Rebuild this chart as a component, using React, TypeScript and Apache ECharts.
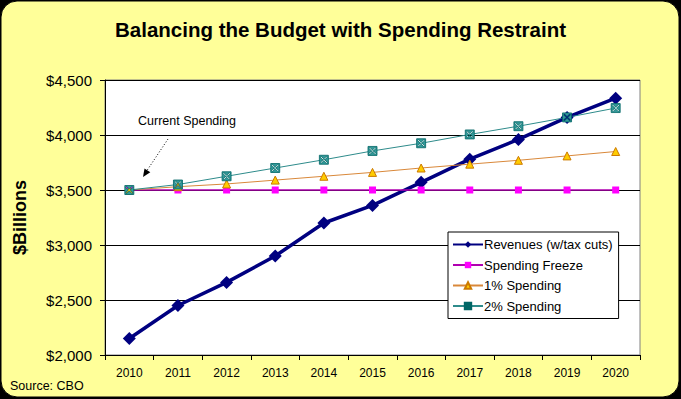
import React, { useEffect, useRef } from "react";
import * as echarts from "echarts";

const years = ["2010", "2011", "2012", "2013", "2014", "2015", "2016", "2017", "2018", "2019", "2020"];
const revenues = [2150, 2450, 2660, 2900, 3200, 3360, 3570, 3780, 3960, 4160, 4335];
const spendingFreeze = [3500, 3500, 3500, 3500, 3500, 3500, 3500, 3500, 3500, 3500, 3500];
const onePctSpending = [3500, 3530, 3555, 3590, 3625, 3660, 3700, 3735, 3770, 3810, 3850];
const twoPctSpending = [3500, 3550, 3625, 3700, 3775, 3855, 3925, 4005, 4080, 4160, 4245];

const FONT = "'Liberation Sans', Arial, sans-serif";
const XBOX = "path://M0,0 L10,0 L10,10 L0,10 Z M2,1 L1,2 L4,5 L1,8 L2,9 L5,6 L8,9 L9,8 L6,5 L9,2 L8,1 L5,4 Z";

export default function App() {
  const ref = useRef<HTMLDivElement>(null);
  useEffect(() => {
    if (!ref.current) return;
    const chart = echarts.init(ref.current, null, { renderer: "svg" });
    chart.setOption({
      animation: false,
      backgroundColor: "transparent",
      textStyle: { fontFamily: FONT },
      title: {
        text: "Balancing the Budget with Spending Restraint",
        left: "center",
        top: 14,
        textStyle: { fontFamily: FONT, fontSize: 20.5, fontWeight: "bold", color: "#000" },
      },
      graphic: [
        {
          type: "rect",
          z: -10,
          shape: { x: 1, y: 1, width: 678, height: 396, r: 16 },
          style: { fill: "#FFFF99", stroke: "#000", lineWidth: 1 },
        },
        {
          type: "text",
          x: 138,
          y: 121,
          style: { text: "Current Spending", font: `12.5px ${FONT}`, fill: "#000", textVerticalAlign: "middle" },
        },
        {
          type: "line",
          shape: { x1: 168, y1: 139, x2: 146, y2: 172 },
          style: { stroke: "#000", lineWidth: 1, lineDash: [1, 2] },
        },
        {
          type: "polygon",
          shape: { points: [[143, 177], [150.3, 172.2], [144.5, 168.4]] },
          style: { fill: "#000" },
        },
        {
          type: "text",
          x: 10,
          y: 386,
          style: { text: "Source: CBO", font: `12.5px ${FONT}`, fill: "#000", textVerticalAlign: "middle" },
        },
      ],
      grid: {
        left: 105,
        right: 41,
        top: 80,
        bottom: 44,
        show: true,
        backgroundColor: "#fff",
        borderColor: "#808080",
        borderWidth: 1,
      },
      legend: {
        orient: "vertical",
        left: 448,
        top: 232,
        width: 166,
        padding: [6, 6, 6, 4],
        itemWidth: 30,
        itemHeight: 8,
        itemGap: 7.5,
        backgroundColor: "#fff",
        borderColor: "#000",
        borderWidth: 1,
        textStyle: { fontFamily: FONT, fontSize: 13, color: "#000", padding: [0, 0, 0, -4] },
        data: ["Revenues (w/tax cuts)", "Spending Freeze", "1% Spending", "2% Spending"],
      },
      xAxis: {
        type: "category",
        data: years,
        boundaryGap: true,
        axisLine: { lineStyle: { color: "#000", width: 1 } },
        axisTick: { show: true, length: 5, lineStyle: { color: "#000" } },
        axisLabel: { color: "#000", fontSize: 12, fontFamily: FONT, margin: 12 },
        splitLine: { show: false },
      },
      yAxis: {
        type: "value",
        min: 2000,
        max: 4500,
        interval: 500,
        name: "$Billions",
        nameLocation: "middle",
        nameRotate: 90,
        nameGap: 76,
        nameTextStyle: { fontFamily: FONT, fontSize: 18, fontWeight: "bold", color: "#000" },
        axisLine: { show: true, lineStyle: { color: "#000", width: 1 } },
        axisTick: { show: true, length: 5, lineStyle: { color: "#000" } },
        axisLabel: {
          color: "#000",
          fontSize: 15,
          fontFamily: FONT,
          margin: 13,
          formatter: (v: number) => "$" + v.toLocaleString("en-US"),
        },
        splitLine: { show: true, lineStyle: { color: "#000", width: 1 } },
      },
      series: [
        {
          name: "Revenues (w/tax cuts)",
          type: "line",
          data: revenues,
          symbol: "diamond",
          symbolSize: 13,
          lineStyle: { color: "#000080", width: 3.5 },
          itemStyle: { color: "#000080" },
        },
        {
          name: "Spending Freeze",
          type: "line",
          data: spendingFreeze,
          symbol: "rect",
          symbolSize: 7,
          lineStyle: { color: "#B000B0", width: 1.5 },
          itemStyle: { color: "#FF00FF" },
        },
        {
          name: "1% Spending",
          type: "line",
          data: onePctSpending,
          symbol: "triangle",
          symbolSize: 8,
          lineStyle: { color: "#D9883A", width: 1 },
          itemStyle: { color: "#FFCC00", borderColor: "#CC7A00", borderWidth: 1 },
        },
        {
          name: "2% Spending",
          type: "line",
          data: twoPctSpending,
          symbol: XBOX,
          symbolSize: 9,
          lineStyle: { color: "#2E8B8B", width: 1 },
          itemStyle: { color: "#339999", borderColor: "#006666", borderWidth: 0.8 },
        },
      ],
    });
    return () => chart.dispose();
  }, []);
  return (
    <div style={{ position: "fixed", left: 0, top: 0, width: 681, height: 399, background: "#000" }}>
      <div ref={ref} style={{ width: 681, height: 399 }} />
    </div>
  );
}
